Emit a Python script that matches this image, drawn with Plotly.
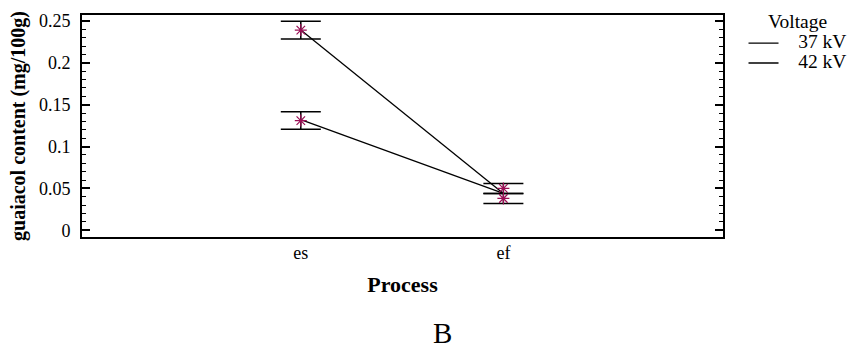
import plotly.graph_objects as go

processes = ["es", "ef"]
series_names = ["37 kV", "42 kV"]
line_37 = [0.239, 0.044]
line_42 = [0.132, 0.044]
point_37 = [0.239, 0.050]
point_42 = [0.131, 0.038]
err_37 = [0.0105, 0.006]
err_42 = [0.0105, 0.006]
y_tickvals = [0, 0.05, 0.1, 0.15, 0.2, 0.25]
y_ticktext = ["0", "0.05", "0.1", "0.15", "0.2", "0.25"]

FONT = "Liberation Serif"
MARK = "#9b0f55"

L, R, T, B = 82, 127, 15, 112
plot_w = 850 - L - R
plot_h = 349 - T - B


def big(txt, size=19.5):
    return f'<span style="font-size:{size}px">{txt}</span>'


fig = go.Figure()
for name, ln in zip(series_names, [line_37, line_42]):
    fig.add_trace(go.Scatter(x=processes, y=ln, mode="lines",
                             name=big("&nbsp;&nbsp;&nbsp;" + name),
                             line=dict(color="black", width=1.3)))
for pt, er in zip([point_37, point_42], [err_37, err_42]):
    fig.add_trace(go.Scatter(
        x=processes, y=pt, mode="markers", showlegend=False,
        marker=dict(symbol="asterisk-open", size=10, color=MARK,
                    line=dict(color=MARK, width=1.2)),
        error_y=dict(type="data", array=er, visible=True, color="black",
                     thickness=1.5, width=20)))

fig.update_layout(
    width=850, height=349,
    margin=dict(l=L, r=R, t=T, b=B, autoexpand=False),
    paper_bgcolor="white", plot_bgcolor="white",
    font=dict(family=FONT, size=18, color="black"),
    showlegend=True,
    legend=dict(x=1.032, y=1.017, xanchor="left", yanchor="top",
                title=dict(text=big("Voltage"), side="top center",
                           font=dict(size=13)),
                font=dict(size=13), itemwidth=30,
                bgcolor="rgba(0,0,0,0)", tracegroupgap=0),
    xaxis=dict(type="category", range=[-1.08, 2.084], showgrid=False,
               zeroline=False, showline=True, linecolor="black",
               linewidth=2, mirror=True, ticks="", automargin=False,
               tickfont=dict(size=18), ticklabelstandoff=-2,
               title=dict(text="<b>Process</b>", font=dict(size=22),
                          standoff=15)),
    yaxis=dict(range=[-0.008, 0.257], showgrid=False, zeroline=False,
               showline=True, linecolor="black", linewidth=2,
               mirror="allticks", ticks="inside", ticklen=8, tickwidth=1.5,
               tickcolor="black", tickvals=y_tickvals, ticktext=y_ticktext,
               ticklabelstandoff=6, tickfont=dict(size=18), automargin=False,
               minor=dict(dtick=0.01, ticks="inside", ticklen=4,
                          tickwidth=1.2, tickcolor="black", showgrid=False),
               title=dict(text="<b>guaiacol content (mg/100g)</b>",
                          font=dict(size=20), standoff=8)),
    annotations=[dict(text="B", x=(442 - L) / plot_w,
                      y=(349 - B - 333) / plot_h, xref="paper",
                      yref="paper", xanchor="center", yanchor="middle",
                      showarrow=False, font=dict(size=29, family=FONT))],
)

fig.write_html("out.html",
               config={"displayModeBar": False},
               post_script="document.body.style.margin='0';"
                           "document.body.style.overflow='hidden';")
